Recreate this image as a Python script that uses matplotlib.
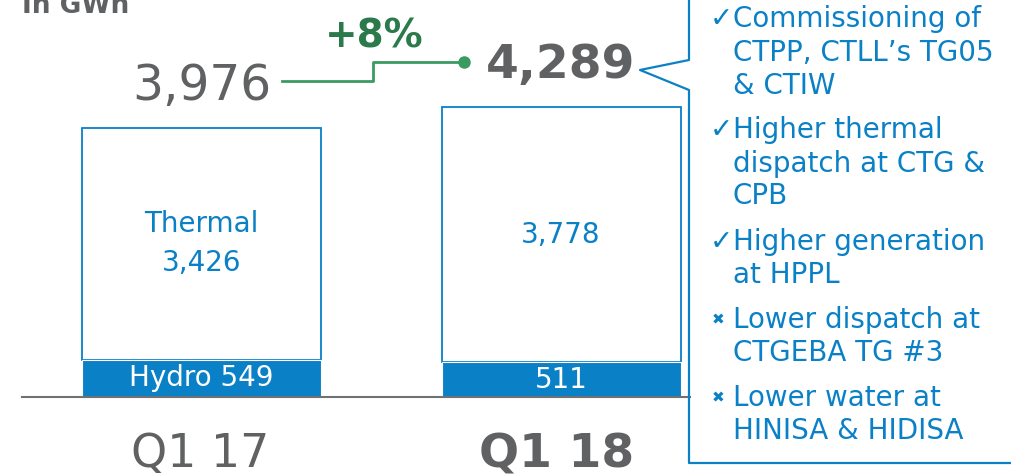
import matplotlib
matplotlib.use('Agg')
import matplotlib.pyplot as plt
from matplotlib.lines import Line2D

# data (GWh)
periods = ['Q1 17', 'Q1 18']
hydro = [549, 511]
thermal = [3426, 3778]
totals = [3976, 4289]
hydro_labels = ['Hydro 549', '511']
thermal_labels = ['Thermal\n3,426', '3,778']

drivers = [
    ('ok', ['Commissioning of', 'CTPP, CTLL\u2019s TG05', '& CTIW']),
    ('ok', ['Higher thermal', 'dispatch at CTG &', 'CPB']),
    ('ok', ['Higher generation', 'at HPPL']),
    ('ko', ['Lower dispatch at', 'CTGEBA TG #3']),
    ('ko', ['Lower water at', 'HINISA & HIDISA']),
]

BLUE = '#0a80c6'
GREY = '#606163'
GREEN_TXT = '#2b7a4b'
GREEN_LN = '#3a9b62'

W, H = 1011, 476
plt.rcParams['font.family'] = ['DejaVu Sans']

fig = plt.figure(figsize=(W / 100, H / 100), dpi=100)
ax = fig.add_axes([0, 0, 1, 1])

# scale: baseline 397px from top, bar 1 is 269px tall; bar centres at 201.5 / 561 px
px_per_gwh = 269.0 / totals[0]
ax.set_ylim(-(H - 397) / px_per_gwh, 397 / px_per_gwh)
unit = 561 - 201.5
ax.set_xlim(-201.5 / unit, (W - 201.5) / unit)
ax.axis('off')

def P(x, y):
    # pixel (from top-left) -> figure fraction
    return x / W, 1 - y / H

x = [0, 1]
bw = 239 / unit
ax.bar(x, thermal, bottom=hydro, width=bw, color='white', edgecolor=BLUE, linewidth=1.3, zorder=2)
ax.bar(x, hydro, width=bw, color=BLUE, edgecolor='white', linewidth=0.8, zorder=3)

for i in x:
    ax.text(i, hydro[i] + thermal[i] / 2, thermal_labels[i], ha='center', va='center',
            fontsize=20, color=BLUE, linespacing=1.5, zorder=4)
    ax.text(i, hydro[i] / 2, hydro_labels[i], ha='center', va='center',
            fontsize=20, color='white', zorder=4)

# totals
ax.annotate(f'{totals[0]:,}', xy=(0, totals[0]), xytext=(0, 28), textcoords='offset pixels',
            ha='center', va='baseline', fontsize=35, color=GREY)
ax.annotate(f'{totals[1]:,}', xy=(1, totals[1]), xytext=(0, 29), textcoords='offset pixels',
            ha='center', va='baseline', fontsize=34, color=GREY, fontweight='bold')

# period labels
fig.text(*P(200, 467), periods[0], ha='center', va='baseline', fontsize=33, color=GREY)
fig.text(*P(557, 468), periods[1], ha='center', va='baseline', fontsize=34, color=GREY,
         fontweight='bold')

# baseline axis
fig.add_artist(Line2D([22 / W, 690 / W], [1 - 397 / H] * 2, color='#707174', lw=1.5, zorder=1))

# growth connector
xs = [282, 373, 373, 464]
ys = [81, 81, 62, 62]
fig.add_artist(Line2D([v / W for v in xs], [1 - v / H for v in ys], color=GREEN_LN, lw=2))
fig.add_artist(Line2D([464 / W], [1 - 62 / H], marker='o', markersize=8, color=GREEN_LN))
growth = round((totals[1] / totals[0] - 1) * 100)
fig.text(*P(374, 47), f'+{growth}%', ha='center', va='baseline', fontsize=28,
         color=GREEN_TXT, fontweight='bold')

# unit label (cut at top, as in the source slide)
fig.text(*P(22, 13), 'In GWh', ha='left', va='baseline', fontsize=19, color=GREY,
         fontweight='bold')

# callout box
bx = [1020, 689, 689, 640, 689, 689, 1020]
by = [463, 463, 90, 70, 60, -5, -5]
fig.add_artist(Line2D([v / W for v in bx], [1 - v / H for v in by], color=BLUE, lw=1.6))

baselines = [[27, 61, 94], [138, 172, 204], [250, 283], [328, 361], [406, 439]]
for (kind, lines), ys_ in zip(drivers, baselines):
    if kind == 'ok':
        fig.text(*P(710, ys_[0]), '\u2713', ha='left', va='baseline', fontsize=20, color=BLUE)
    else:
        fig.text(*P(712, ys_[0] - 4), '\u2716', ha='left', va='baseline', fontsize=11, color=BLUE)
    for ln, yb in zip(lines, ys_):
        fig.text(*P(733, yb), ln, ha='left', va='baseline', fontsize=20, color=BLUE)

fig.savefig('out.png', dpi=100)
